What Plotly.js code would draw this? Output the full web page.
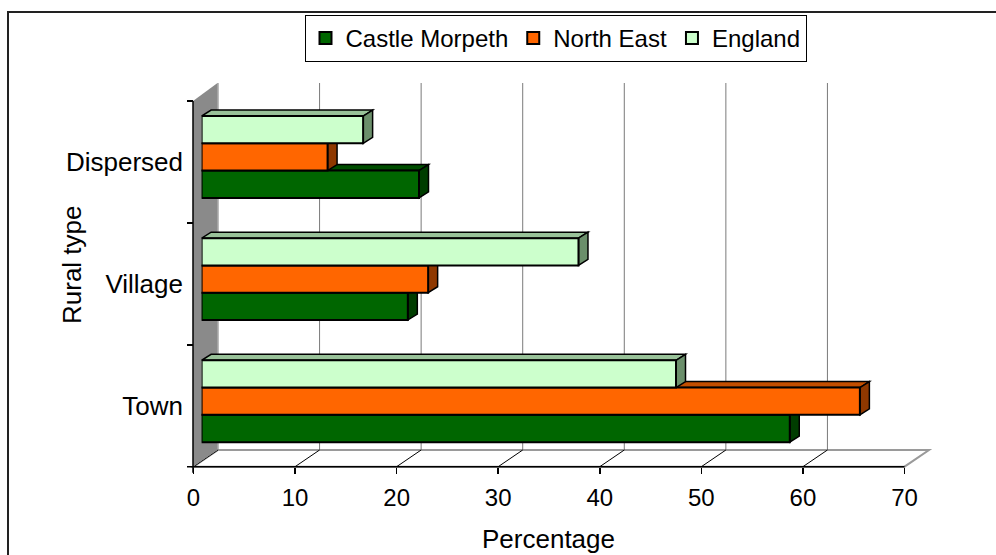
<!DOCTYPE html>
<html>
<head>
<meta charset="utf-8">
<script src="https://cdn.plot.ly/plotly-3.0.1.min.js"></script>
<style>html,body{margin:0;padding:0;background:#fff}#chart{width:996px;height:555px}</style>
</head>
<body>
<div id="chart"></div>
<script>
// ---- data ----
const categories = ['Town', 'Village', 'Dispersed'];
const seriesNames = ['Castle Morpeth', 'North East', 'England'];
const castleMorpeth = [57.9, 20.3, 21.4];
const northEast = [64.8, 22.3, 12.4];
const england = [46.7, 37.1, 15.9];
const xTicks = [0, 10, 20, 30, 40, 50, 60, 70];
const xMax = 70;

// ---- styles ----
const frontColors = ['#006600', '#ff6600', '#ccffcc'];
const topColors = ['#004d00', '#c24e00', '#99c299'];
const sideColors = ['#003d00', '#8f3800', '#6b8f6b'];
const FONT = 'Liberation Sans, Arial, sans-serif';
const FS = 24;

// ---- page geometry (pixels) ----
const W = 996, H = 555;
const M = {l: 150, r: 60, t: 80, b: 80};
const PW = W - M.l - M.r, PH = H - M.t - M.b;
const fx = px => (px - M.l) / PW;
const fy = py => (H - M.b - py) / PH;

const barLeft = 201.6, barRight = 912.7, barTop = 95.9, barBottom = 462.3;
const frontX0 = 193.5, frontX70 = 904.5;          // front floor edge 0 / 70
const frontBottom = 466.7, frontTop = 101;        // front wall edge
const wallX = 193;
const depthDX = 24.5, depthDY = 16.7;             // wall/floor depth
const backTop = 83;
const barDX = 9.5, barDY = 6;                     // bar depth
const bargap = 0.33;

const valueUnitPx = (barRight - barLeft) / xMax;
const catUnitPx = (barBottom - barTop) / categories.length;

const allSeries = [castleMorpeth, northEast, england];
const yIdx = categories.map((c, i) => i);

const traces = allSeries.map((vals, k) => ({
  type: 'bar', orientation: 'h', name: seriesNames[k],
  x: vals, y: yIdx, xaxis: 'x', yaxis: 'y',
  marker: {color: frontColors[k], line: {color: '#000', width: 2}},
  hoverinfo: 'x+name'
}));
// empty trace that carries the front (labelled) axes
traces.push({type: 'scatter', mode: 'markers', x: [], y: [], xaxis: 'x2', yaxis: 'y2',
  showlegend: false, hoverinfo: 'skip'});

// ---- decorations ----
const shapes = [];
const wallGrey = '#8a8a8a', edgeGrey = '#9a9a9a';
// floor
shapes.push({type: 'path', xref: 'paper', yref: 'paper', layer: 'below',
  path: `M ${fx(frontX0)} ${fy(frontBottom)} L ${fx(frontX70)} ${fy(frontBottom)} L ${fx(frontX70 + depthDX)} ${fy(frontBottom - depthDY)} L ${fx(frontX0 + depthDX)} ${fy(frontBottom - depthDY)} Z`,
  line: {color: edgeGrey, width: 2}, fillcolor: '#fff'});
// grid lines on back wall and floor lines, through the front axis scale
xTicks.forEach(v => {
  const last = v === xMax;
  shapes.push({type: 'line', layer: 'below', xref: 'x2', xsizemode: 'pixel', xanchor: v, x0: depthDX, x1: depthDX,
    yref: 'paper', y0: fy(frontBottom - depthDY), y1: fy(backTop),
    line: {color: last ? edgeGrey : '#7a7a7a', width: last ? 2 : 1}});
  shapes.push({type: 'line', layer: 'below', xref: 'x2', xsizemode: 'pixel', xanchor: v, x0: 0, x1: depthDX,
    yref: 'paper', ysizemode: 'pixel', yanchor: fy(frontBottom), y0: 0, y1: depthDY,
    line: {color: last ? edgeGrey : '#000', width: last ? 2 : 1}});
});
// left wall
shapes.push({type: 'path', xref: 'paper', yref: 'paper', layer: 'below',
  path: `M ${fx(wallX)} ${fy(frontTop)} L ${fx(wallX + depthDX)} ${fy(backTop)} L ${fx(wallX + depthDX)} ${fy(frontBottom - depthDY)} L ${fx(wallX)} ${fy(frontBottom)} Z`,
  line: {width: 0}, fillcolor: wallGrey});

// bar 3D faces
const bw = (1 - bargap) / allSeries.length;
const dxu = barDX / valueUnitPx, dyu = barDY / catUnitPx;
allSeries.forEach((vals, k) => {
  vals.forEach((v, i) => {
    const yc = i - (1 - bargap) / 2 + (k + 0.5) * bw;
    const yt = yc + bw / 2;
    shapes.push({type: 'path', xref: 'x', yref: 'y', layer: 'below',
      path: `M 0 ${yt} L ${v} ${yt} L ${v + dxu} ${yt + dyu} L ${dxu} ${yt + dyu} Z`,
      fillcolor: topColors[k], line: {color: '#000', width: 1.5}});
  });
});
allSeries.forEach((vals, k) => {
  vals.forEach((v, i) => {
    const yc = i - (1 - bargap) / 2 + (k + 0.5) * bw;
    const yt = yc + bw / 2, yb = yc - bw / 2;
    shapes.push({type: 'path', xref: 'x', yref: 'y', layer: 'below',
      path: `M ${v} ${yb} L ${v} ${yt} L ${v + dxu} ${yt + dyu} L ${v + dxu} ${yb + dyu} Z`,
      fillcolor: sideColors[k], line: {color: '#000', width: 1.5}});
  });
});
// front axis lines
shapes.push({type: 'line', xref: 'paper', yref: 'paper', layer: 'above',
  x0: fx(wallX), x1: fx(wallX), y0: fy(frontTop), y1: fy(frontBottom + 6), line: {color: '#000', width: 1.5}});
shapes.push({type: 'line', xref: 'paper', yref: 'paper', layer: 'above',
  x0: fx(wallX - 6), x1: fx(frontX70), y0: fy(frontBottom), y1: fy(frontBottom), line: {color: '#000', width: 1.5}});
// outer border
shapes.push({type: 'rect', xref: 'paper', yref: 'paper', layer: 'above',
  x0: fx(8), x1: fx(W + 20), y0: fy(H + 20), y1: fy(12), line: {color: '#222', width: 2}, fillcolor: 'rgba(0,0,0,0)'});

const tf = {family: FONT, size: FS, color: '#000'};
const bigf = {family: FONT, size: 26, color: '#000'};
const layout = {
  width: W, height: H, margin: M,
  paper_bgcolor: '#fff', plot_bgcolor: 'rgba(0,0,0,0)',
  font: tf,
  barmode: 'group', bargap: bargap, bargroupgap: 0,
  showlegend: true,
  legend: {orientation: 'h', x: fx(555.5), xanchor: 'center', y: fy(15), yanchor: 'top',
    bordercolor: '#000', borderwidth: 1, bgcolor: '#fff', font: tf,
    itemwidth: 30, traceorder: 'normal'},
  xaxis: {domain: [fx(barLeft), fx(barRight)], range: [0, xMax], anchor: 'y', showgrid: false, zeroline: false,
    showline: false, showticklabels: false, ticks: '', fixedrange: true},
  yaxis: {domain: [fy(barBottom), fy(barTop)], range: [-0.5, categories.length - 0.5], anchor: 'x', showgrid: false,
    zeroline: false, showline: false, showticklabels: false, ticks: '', fixedrange: true},
  xaxis2: {anchor: 'free', position: fy(frontBottom), domain: [fx(frontX0), fx(frontX70)],
    range: [0, xMax], tickmode: 'array', tickvals: xTicks, ticktext: xTicks.map(String),
    ticks: 'outside', ticklen: 6, tickcolor: '#000', tickwidth: 1.5, showgrid: false, zeroline: false, showline: false,
    tickfont: tf, ticklabelstandoff: 3, fixedrange: true},
  yaxis2: {anchor: 'free', position: fx(wallX), domain: [fy(frontBottom), fy(frontTop)],
    range: [-0.5, categories.length - 0.5],
    tickmode: 'array', tickvals: yIdx, ticktext: categories, ticks: '', showgrid: false, zeroline: false, showline: false,
    minor: {tickmode: 'array', tickvals: yIdx.map(i => i + 0.5), ticks: 'outside', ticklen: 6, tickcolor: '#000', tickwidth: 1.5, showgrid: false},
    tickfont: bigf, ticklabelstandoff: 10, fixedrange: true},
  shapes: shapes,
  annotations: [
    {text: 'Rural type', xref: 'paper', yref: 'paper', x: fx(72), y: fy(265), textangle: -90, showarrow: false,
      xanchor: 'center', yanchor: 'middle', font: bigf},
    {text: 'Percentage', xref: 'paper', yref: 'paper', x: fx(548), y: fy(539), showarrow: false,
      xanchor: 'center', yanchor: 'middle', font: bigf}
  ]
};

Plotly.newPlot('chart', traces, layout, {displayModeBar: false, staticPlot: true});
</script>
</body>
</html>
